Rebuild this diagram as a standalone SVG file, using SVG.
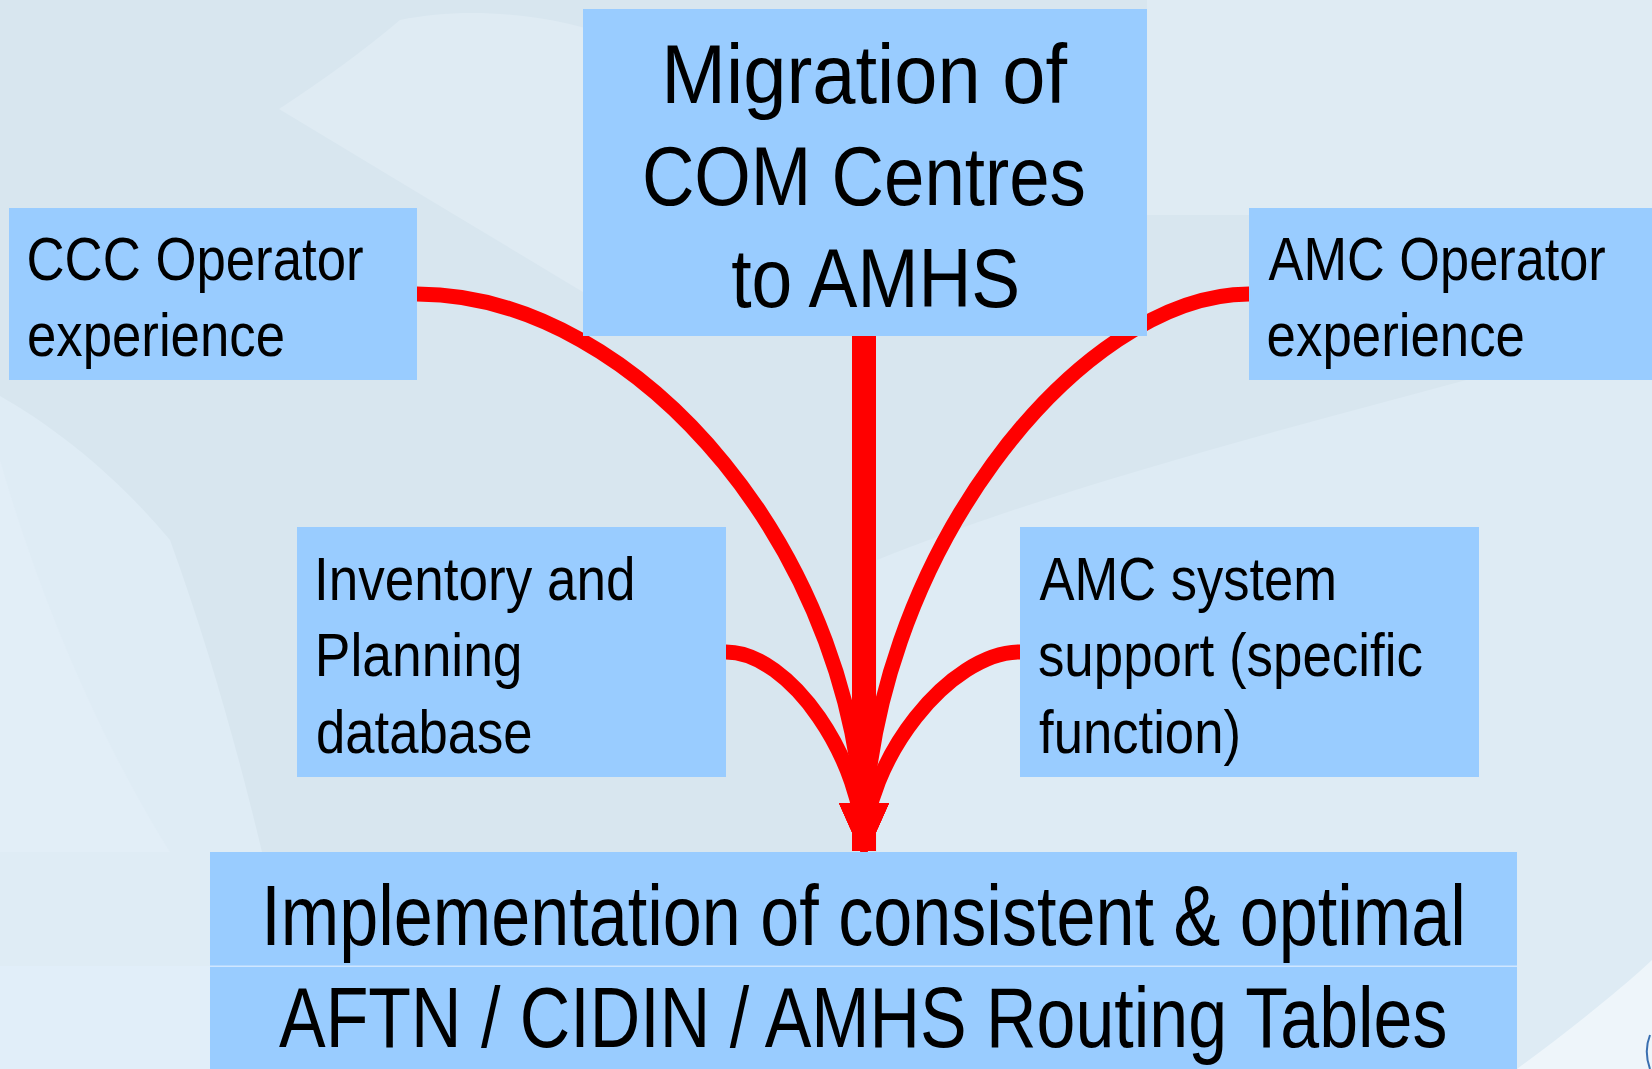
<svg xmlns="http://www.w3.org/2000/svg" width="1652" height="1069" viewBox="0 0 1652 1069">
  <style>
    .box { fill: #99ccff; }
    .t { font-family: "Liberation Sans", Arial, sans-serif; fill: #000; }
    .side { font-size: 62px; }
    .big { font-size: 83px; }
    .bot { font-size: 85px; }
    .conn { fill: none; stroke: #ff0000; stroke-width: 15; marker-end: url(#arrow); }
    .trunk { stroke-width: 24; }
  </style>
  <defs>
    <marker id="arrow" markerUnits="userSpaceOnUse" viewBox="0 0 56 50" markerWidth="56" markerHeight="50" refX="48" refY="25" orient="auto">
      <path d="M0,0 L56,25 L0,50 Z" fill="#ff0000"/>
    </marker>
  </defs>

  <g id="background">
    <rect x="0" y="0" width="1652" height="1069" fill="#d8e6ef"/>
    <path d="M279,109 C320,82 365,50 400,20 C470,5 560,15 620,40 L620,320 L583,292 C480,230 380,170 279,109 Z" fill="#dfebf3"/>
    <path d="M1147,0 L1652,0 L1652,215 L1147,215 Z" fill="#dfebf3"/>
    <path d="M877,560 C1100,470 1400,400 1652,330 L1652,1069 L877,1069 Z" fill="#deebf4"/>
    <path d="M0,396 C60,430 120,480 170,540 C210,650 240,760 262,852 L210,852 L210,1069 L0,1069 Z" fill="#dfecf5"/>
    <path d="M0,460 C40,600 100,740 170,852 L0,852 Z" fill="#e2eef7"/>
    <rect x="0" y="966" width="210" height="103" fill="#e1eef9"/>
    <path d="M1517,1069 C1570,1030 1620,990 1652,960 L1652,1069 Z" fill="#eef5fa"/>
    <path d="M1650,1035 C1646,1045 1646,1058 1650,1069" fill="none" stroke="#3a6fb0" stroke-width="2"/>
  </g>

  <g id="connectors">
    <path class="conn trunk" d="M864,336 L864,851"/>
    <path class="conn" d="M417,294 C640,294 864,560 864,851"/>
    <path class="conn" d="M1249,294 C1080,294 864,560 864,851"/>
    <path class="conn" d="M726,652 C790,652 864,760 864,851"/>
    <path class="conn" d="M1020,652 C950,652 864,760 864,851"/>
  </g>

  <g id="node-migration">
    <rect class="box" x="583" y="9" width="564" height="327"/>
    <text class="t big" transform="translate(661.3 102.5) scale(0.875 1)" x="0" y="0" textLength="463.7" lengthAdjust="spacingAndGlyphs">Migration of</text>
    <text class="t big" transform="translate(641.9 205) scale(0.875 1)" x="0" y="0" textLength="507.4" lengthAdjust="spacingAndGlyphs">COM Centres</text>
    <text class="t big" transform="translate(731.2 307) scale(0.875 1)" x="0" y="0" textLength="330.3" lengthAdjust="spacingAndGlyphs">to AMHS</text>
  </g>

  <g id="node-ccc">
    <rect class="box" x="9" y="208" width="408" height="172"/>
    <text class="t side" transform="translate(26.5 280) scale(0.85 1)" x="0" y="0" textLength="396.5" lengthAdjust="spacingAndGlyphs">CCC Operator</text>
    <text class="t side" transform="translate(27 356) scale(0.85 1)" x="0" y="0" textLength="303.5" lengthAdjust="spacingAndGlyphs">experience</text>
  </g>

  <g id="node-amc-operator">
    <rect class="box" x="1249" y="208" width="403" height="172"/>
    <text class="t side" transform="translate(1268.6 280) scale(0.85 1)" x="0" y="0" textLength="396.7" lengthAdjust="spacingAndGlyphs">AMC Operator</text>
    <text class="t side" transform="translate(1266.6 356) scale(0.85 1)" x="0" y="0" textLength="304" lengthAdjust="spacingAndGlyphs">experience</text>
  </g>

  <g id="node-inventory">
    <rect class="box" x="297" y="527" width="429" height="250"/>
    <text class="t side" transform="translate(314 600) scale(0.85 1)" x="0" y="0" textLength="378.2" lengthAdjust="spacingAndGlyphs">Inventory and</text>
    <text class="t side" transform="translate(314.8 676) scale(0.85 1)" x="0" y="0" textLength="244.4" lengthAdjust="spacingAndGlyphs">Planning</text>
    <text class="t side" transform="translate(316 753) scale(0.85 1)" x="0" y="0" textLength="254.8" lengthAdjust="spacingAndGlyphs">database</text>
  </g>

  <g id="node-amc-system">
    <rect class="box" x="1020" y="527" width="459" height="250"/>
    <text class="t side" transform="translate(1039.4 600) scale(0.85 1)" x="0" y="0" textLength="350" lengthAdjust="spacingAndGlyphs">AMC system</text>
    <text class="t side" transform="translate(1037.9 676) scale(0.85 1)" x="0" y="0" textLength="452.9" lengthAdjust="spacingAndGlyphs">support (specific</text>
    <text class="t side" transform="translate(1039 753) scale(0.85 1)" x="0" y="0" textLength="237.6" lengthAdjust="spacingAndGlyphs">function)</text>
  </g>

  <g id="node-implementation">
    <rect x="210" y="852" width="1307" height="217" fill="#cfe6ff"/>
    <rect class="box" x="210" y="852" width="1307" height="113.5"/>
    <rect class="box" x="210" y="967" width="1307" height="102"/>
    <text class="t bot" transform="translate(261.3 945) scale(0.82 1)" x="0" y="0" textLength="1468.8" lengthAdjust="spacingAndGlyphs">Implementation of consistent &amp; optimal</text>
    <text class="t bot" transform="translate(279 1047) scale(0.82 1)" x="0" y="0" textLength="1424.9" lengthAdjust="spacingAndGlyphs">AFTN / CIDIN / AMHS Routing Tables</text>
  </g>
</svg>
